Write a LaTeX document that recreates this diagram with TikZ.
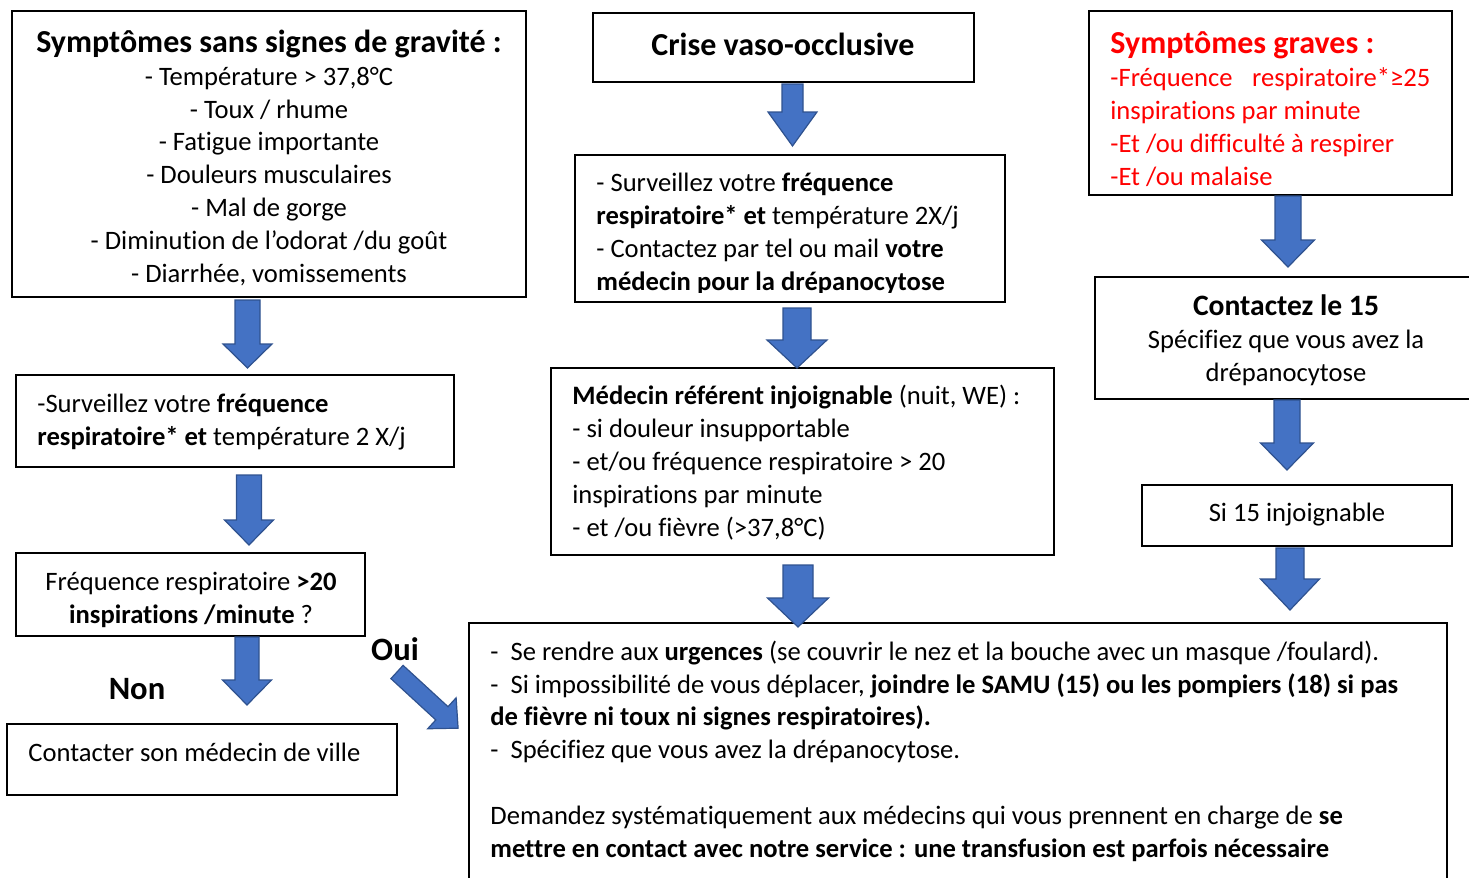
\documentclass[tikz,border=0pt]{standalone}
\usepackage{fontspec}
\setmainfont{Carlito}[Ligatures=CommonOff]
\usetikzlibrary{fit,calc}
\definecolor{arrowblue}{HTML}{4472C4}
\definecolor{arrowedge}{HTML}{2F528F}
\definecolor{redtxt}{HTML}{FF0000}
\tikzset{
  box/.style={draw=black, line width=0.8pt, inner sep=0pt, fill=white},
  txt/.style={inner sep=0pt, font=\fontsize{13.3pt}{16.4pt}\selectfont},
  ttl/.style={inner sep=0pt, font=\fontsize{16pt}{16.4pt}\selectfont\bfseries},
  lbl/.style={inner sep=0pt, font=\fontsize{16.3pt}{16pt}\selectfont\bfseries},
  blockarrow/.style={fill=arrowblue, draw=arrowedge, line width=0.6pt, line join=miter},
}
% name, x, ytop, ybottom, shaft half width, head half width, head length
\newcommand\varrow[7]{%
  \coordinate (#1-s) at (#2,#3);
  \coordinate (#1-e) at (#2,#4);
  \draw[blockarrow] ({#2-#5},#3) -- ({#2+#5},#3) -- ({#2+#5},{#4-#7}) -- ({#2+#6},{#4-#7})
    -- (#1-e) -- ({#2-#6},{#4-#7}) -- ({#2-#5},{#4-#7}) -- cycle;}
\begin{document}
\begin{tikzpicture}[x=0.5pt,y=-0.5pt]
\useasboundingbox (0,0) rectangle (1469,878);
% boxes
\node[box, fit={(12,11) (526,297)}] (A) {};
\node[box, fit={(593,13) (974,82)}] (B) {};
\node[box, fit={(1089,11) (1452,195)}] (C) {};
\node[box, fit={(575,155) (1005,302)}] (D) {};
\node[box, fit={(16,375) (454,467)}] (E) {};
\node[box, fit={(16,553) (365,636)}] (F) {};
\node[box, fit={(7,724) (397,795)}] (G) {};
\node[box, fit={(551,368) (1054,555)}] (H) {};
\node[box, fit={(1095,277) (1500,399)}] (I) {};
\node[box, fit={(1142,485) (1452,546)}] (J) {};
\node[box, fit={(469,623) (1447,920)}] (K) {};
% texts (anchor base = baseline of the last line)
\node[txt, anchor=base, align=center] (At) at (269,282)
  {{\fontsize{16pt}{16.4pt}\selectfont\bfseries Symptômes sans signes de gravité :}\\
   - Température > 37,8°C\\
   - Toux / rhume\\
   - Fatigue importante\\
   - Douleurs musculaires\\
   - Mal de gorge\\
   - Diminution de l’odorat /du goût\\
   - Diarrhée, vomissements};
\node[ttl, anchor=base] (Bt) at (783,55) {Crise vaso-occlusive};
\node[txt, anchor=base west, align=left, text=redtxt] (Ct) at (1110,185)
  {{\fontsize{16pt}{16.4pt}\selectfont\bfseries Symptômes graves :}\\
   \makebox[160pt][s]{-Fréquence\hfill respiratoire*≥25}\\
   inspirations par minute\\
   -Et /ou difficulté à respirer\\
   -Et /ou malaise};
\begin{scope}
  \clip (575,155) rectangle (1005,292);
  \node[txt, anchor=base west, align=left] (Dt) at (596,290)
    {- Surveillez votre \textbf{fréquence}\\
     \textbf{respiratoire* et} température 2X/j\\
     - Contactez par tel ou mail \textbf{votre}\\
     \textbf{médecin pour la drépanocytose}};
\end{scope}
\node[txt, anchor=base west, align=left] (Et) at (37,445)
  {-Surveillez votre \textbf{fréquence}\\
   \textbf{respiratoire* et} température 2 X/j};
\node[txt, anchor=base, align=center] (Ft) at (191,623)
  {Fréquence respiratoire \textbf{>20}\\
   \textbf{inspirations /minute} ?};
\node[txt, anchor=base west] (Gt) at (28,761) {Contacter son médecin de ville};
\node[txt, anchor=base west, align=left] (Ht) at (572,536)
  {\textbf{Médecin référent injoignable} (nuit, WE) :\\
   - si douleur insupportable\\
   - et/ou fréquence respiratoire > 20\\
   inspirations par minute\\
   - et /ou fièvre (>37,8°C)};
\node[txt, anchor=base, align=center] (It) at (1286,381)
  {{\fontsize{14.8pt}{16.4pt}\selectfont\bfseries Contactez le 15}\\
   Spécifiez que vous avez la\\
   drépanocytose};
\node[txt, anchor=base] (Jt) at (1297,521) {Si 15 injoignable};
\node[txt, anchor=base west, align=left] (Kt) at (490,857)
  {-\ \ Se rendre aux \textbf{urgences} (se couvrir le nez et la bouche avec un masque /foulard).\\
   -\ \ Si impossibilité de vous déplacer, \textbf{joindre le SAMU (15) ou les pompiers (18) si pas}\\
   \textbf{de fièvre ni toux ni signes respiratoires).}\\
   -\ \ Spécifiez que vous avez la drépanocytose.\\[16.4pt]
   Demandez systématiquement aux médecins qui vous prennent en charge de \textbf{se}\\
   \textbf{mettre en contact avec notre service : une transfusion est parfois nécessaire}};
\node[lbl, anchor=base] (oui) at (395,660) {Oui};
\node[lbl, anchor=base] (non) at (137,699) {Non};
% block arrows
\varrow{a1}{247.5}{300}{368}{12.5}{24.5}{24}
\varrow{a2}{249}{475}{545}{12.5}{24.5}{25}
\varrow{a3}{247}{637}{705}{12}{24.5}{25}
\varrow{a4}{792.5}{84}{146}{10.5}{24.5}{34}
\varrow{a5}{797}{308}{368}{14}{30}{28}
\varrow{a6}{798}{565}{627}{15}{30.5}{29}
\varrow{a7}{1288}{196}{267}{13}{26.5}{27}
\varrow{a8}{1287}{400}{470}{13}{26.5}{27}
\varrow{a9}{1290}{548}{610}{14}{29.5}{31}
% diagonal arrow (Oui)
\coordinate (d-s) at (397,672);
\coordinate (d-e) at (458,728);
\begin{scope}[shift={(d-s)}, rotate=-42.6]
  \draw[blockarrow] (0,-9) -- (61,-9) -- (61,-21) -- (83,0) -- (61,21) -- (61,9) -- (0,9) -- cycle;
\end{scope}
\end{tikzpicture}
\end{document}
